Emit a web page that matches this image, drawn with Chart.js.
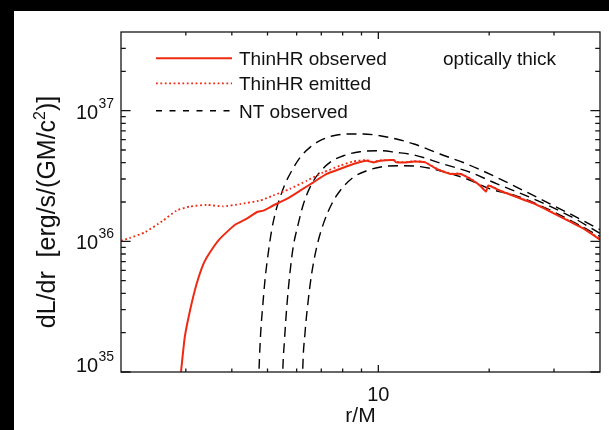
<!DOCTYPE html>
<html>
<head>
<meta charset="utf-8">
<script src="https://cdn.jsdelivr.net/npm/chart.js@4.4.1/dist/chart.umd.min.js"></script>
<style>
	html, body { margin: 0; padding: 0; background: #000; width: 609px; height: 430px; overflow: hidden; }
	#quadro { position: absolute; left: 14px; top: 11px; width: 595px; height: 419px; background: #fff; }
</style>
</head>
<body>
<div id="quadro"><canvas id="graficoLuminosidade" width="595" height="419"></canvas></div>
<script>
// r/M e dL/dr [erg/s/(GM/c^2)]
var obsR = [2.88, 2.91, 2.98, 3.08, 3.21, 3.35, 3.49, 3.71, 4.08, 4.39, 4.67, 4.87, 5.18, 5.64, 6.13, 6.66, 7.24, 7.87, 8.55, 9.30,
	9.69, 10.1, 11.0, 11.2, 11.9, 12.5, 13.4, 14.4, 15.7, 16.7, 17.8, 18.9, 19.6, 19.9, 21.4, 26.4, 29.3, 36.1, 40.0];
var obsL = [8.0e34, 1.0e35, 1.85e35, 2.96e35, 4.73e35, 6.73e35, 8.26e35, 1.045e36, 1.34e36, 1.49e36, 1.67e36, 1.72e36, 1.88e36, 2.11e36, 2.44e36, 2.83e36, 3.28e36, 3.58e36, 3.91e36, 4.14e36,
	4.02e36, 4.14e36, 4.19e36, 4.02e36, 4.02e36, 4.09e36, 4.02e36, 3.58e36, 3.28e36, 3.28e36, 3.0e36, 2.67e36, 2.40e36, 2.67e36, 2.44e36, 1.95e36, 1.69e36, 1.25e36, 1.03e36];

var emiR = [2.0, 2.11, 2.32, 2.60, 2.83, 3.08, 3.42, 3.79, 4.21, 4.77, 5.18, 5.75, 6.39, 7.09, 7.87, 8.55, 9.30,
	9.69, 10.1, 11.0, 11.2, 11.9, 12.5, 13.4, 14.4, 15.7, 16.7, 17.8, 18.9, 19.6, 19.9, 21.4, 26.4, 29.3, 36.1, 40.0];
var emiL = [1.01e36, 1.06e36, 1.17e36, 1.44e36, 1.72e36, 1.85e36, 1.90e36, 1.85e36, 1.93e36, 2.05e36, 2.24e36, 2.52e36, 2.91e36, 3.37e36, 3.79e36, 4.09e36, 4.19e36,
	4.05e36, 4.16e36, 4.20e36, 4.05e36, 4.04e36, 4.10e36, 4.04e36, 3.60e36, 3.30e36, 3.30e36, 3.02e36, 2.68e36, 2.42e36, 2.68e36, 2.45e36, 1.96e36, 1.70e36, 1.26e36, 1.04e36];

var ntR1 = [4.72, 4.74, 4.79, 4.85, 4.92, 5.02, 5.13, 5.27, 5.41, 5.58, 5.82, 6.13, 6.52, 6.94, 7.55, 8.38, 9.10, 10.1, 11.2, 12.5, 14.7, 17.4, 20.5, 23.8, 28.1, 33.2, 40.0];
var ntL1 = [6e34, 1.0e35, 1.97e35, 3.14e35, 5.02e35, 8.03e35, 1.21e36, 1.72e36, 2.17e36, 2.75e36, 3.47e36, 4.39e36, 5.24e36, 5.89e36, 6.43e36, 6.63e36, 6.63e36, 6.43e36, 6.07e36, 5.56e36, 4.66e36, 3.91e36, 3.18e36, 2.59e36, 2.05e36, 1.62e36, 1.23e36];

var ntR2 = [5.48, 5.50, 5.56, 5.64, 5.75, 5.87, 6.06, 6.26, 6.52, 6.87, 7.39, 8.04, 8.92, 10.1, 11.2, 12.5, 15.0, 17.8, 21.0, 24.8, 29.3, 33.9, 40.0];
var ntL2 = [6e34, 1.0e35, 1.75e35, 3.14e35, 5.65e35, 9.01e35, 1.36e36, 1.93e36, 2.59e36, 3.28e36, 4.02e36, 4.52e36, 4.85e36, 4.94e36, 4.79e36, 4.58e36, 3.91e36, 3.37e36, 2.75e36, 2.28e36, 1.85e36, 1.51e36, 1.15e36];

var ntR3 = [6.21, 6.23, 6.32, 6.45, 6.59, 6.80, 7.09, 7.47, 7.87, 8.55, 9.30, 10.3, 11.5, 13.0, 14.7, 17.4, 20.1, 23.8, 28.1, 33.2, 40.0];
var ntL3 = [6e34, 1.0e35, 1.97e35, 3.53e35, 5.65e35, 9.01e35, 1.36e36, 1.93e36, 2.44e36, 3.09e36, 3.47e36, 3.73e36, 3.79e36, 3.73e36, 3.47e36, 3.0e36, 2.52e36, 2.22e36, 1.83e36, 1.45e36, 1.09e36];

// eixos
var xMajor = [10];
var xMajorLabels = ['10'];
var xMinor = [3, 4, 5, 6, 7, 8, 9, 20, 30];
var yMajor = [1e35, 1e36, 1e37];
var yMajorExp = ['35', '36', '37'];
var yMinor = [2e35, 3e35, 4e35, 5e35, 6e35, 7e35, 8e35, 9e35, 2e36, 3e36, 4e36, 5e36, 6e36, 7e36, 8e36, 9e36, 2e37, 3e37];
var legendLabels = ['ThinHR observed', 'ThinHR emitted', 'NT observed'];

var FONTE = '"Liberation Sans", Arial, Helvetica, sans-serif';
var VERMELHO = "#ee2a12";

function pares(xs, ys) {
	return xs.map(function(x, i) { return { x: x, y: ys[i] }; });
}

var molduraPlugin = {
	id: 'moldura',
	afterDraw: function(chart) {
		var ctx = chart.ctx;
		var a = chart.chartArea;
		var sx = chart.scales.x, sy = chart.scales.y;

		ctx.save();
		ctx.strokeStyle = '#161616';
		ctx.lineWidth = 1.3;
		ctx.strokeRect(a.left, a.top, a.right - a.left, a.bottom - a.top);

		// marcas para dentro, nos quatro lados
		ctx.beginPath();
		function marcaX(v, len) {
			var px = sx.getPixelForValue(v);
			ctx.moveTo(px, a.bottom); ctx.lineTo(px, a.bottom - len);
			ctx.moveTo(px, a.top); ctx.lineTo(px, a.top + len);
		}
		function marcaY(v, len) {
			var py = sy.getPixelForValue(v);
			ctx.moveTo(a.left, py); ctx.lineTo(a.left + len, py);
			ctx.moveTo(a.right, py); ctx.lineTo(a.right - len, py);
		}
		xMajor.forEach(function(v) { marcaX(v, 7); });
		xMinor.forEach(function(v) { marcaX(v, 3.5); });
		yMajor.forEach(function(v) { marcaY(v, 9.6); });
		yMinor.forEach(function(v) { marcaY(v, 4.8); });
		ctx.stroke();

		ctx.fillStyle = '#111';
		ctx.textBaseline = 'alphabetic';

		// rotulos do eixo x
		ctx.font = '20px ' + FONTE;
		ctx.textAlign = 'center';
		xMajor.forEach(function(v, i) {
			ctx.fillText(xMajorLabels[i], sx.getPixelForValue(v), a.bottom + 29);
		});
		ctx.font = '21px ' + FONTE;
		ctx.fillText('r/M', (a.left + a.right) / 2, a.bottom + 50);

		// rotulos do eixo y (10 com expoente)
		ctx.textAlign = 'left';
		yMajor.forEach(function(v, i) {
			var base = Math.min(sy.getPixelForValue(v) + 8, a.bottom);
			ctx.font = '20px ' + FONTE;
			ctx.fillText('10', a.left - 45, base);
			ctx.font = '14px ' + FONTE;
			ctx.fillText(yMajorExp[i], a.left - 22.5, base - 11);
		});

		// titulo do eixo y
		var partes = [['dL/dr  [erg/s/(GM/c', 25, 0], ['2', 16, -10], [')]', 25, 0]];
		var total = 0;
		partes.forEach(function(p) { ctx.font = p[1] + 'px ' + FONTE; p.push(ctx.measureText(p[0]).width); total += p[3]; });
		ctx.translate(a.left - 66, (a.top + a.bottom) / 2 + 10);
		ctx.rotate(-Math.PI / 2);
		var px = -total / 2;
		partes.forEach(function(p) {
			ctx.font = p[1] + 'px ' + FONTE;
			ctx.fillText(p[0], px, p[2]);
			px += p[3];
		});
		ctx.setTransform(1, 0, 0, 1, 0, 0);

		// legenda
		var linhas = [
			{ cor: VERMELHO, largura: 2, traco: [] },
			{ cor: VERMELHO, largura: 1.8, traco: [1.8, 2.6] },
			{ cor: '#000', largura: 1.4, traco: [6, 7.5] }
		];
		var ys = [26.3, 51.3, 78.7];
		linhas.forEach(function(l, i) {
			var y = a.top + ys[i];
			ctx.beginPath();
			ctx.strokeStyle = l.cor;
			ctx.lineWidth = l.largura;
			ctx.setLineDash(l.traco);
			ctx.moveTo(a.left + 35, y);
			ctx.lineTo(a.left + 111, y);
			ctx.stroke();
			ctx.setLineDash([]);
			ctx.font = '19px ' + FONTE;
			ctx.fillStyle = '#111';
			ctx.fillText(legendLabels[i], a.left + 118, y + 7);
		});
		ctx.fillText('optically thick', a.left + 322, a.top + ys[0] + 7);

		ctx.restore();
	}
};

var conjunto = function(label, xs, ys, cor, largura, traco, suave) {
	return {
		label: label,
		data: pares(xs, ys),
		borderColor: cor,
		borderWidth: largura,
		borderDash: traco,
		pointRadius: 0,
		fill: false,
		tension: suave ? 0 : 0.15,
		cubicInterpolationMode: suave ? 'monotone' : 'default'
	};
};

new Chart(document.getElementById('graficoLuminosidade'), {
	type: 'line',
	data: {
		datasets: [
			conjunto(legendLabels[0], obsR, obsL, VERMELHO, 2, [], false),
			conjunto(legendLabels[1], emiR, emiL, VERMELHO, 1.8, [1.8, 2.6], false),
			conjunto(legendLabels[2], ntR1, ntL1, "#000", 1.4, [10, 6], true),
			conjunto(legendLabels[2], ntR2, ntL2, "#000", 1.4, [10, 6], true),
			conjunto(legendLabels[2], ntR3, ntL3, "#000", 1.4, [10, 6], true)
		]
	},
	options: {
		animation: false,
		responsive: false,
		events: [],
		layout: { padding: { left: 107, right: 9, top: 21, bottom: 58 } },
		scales: {
			x: { type: 'logarithmic', min: 2, max: 40, display: false },
			y: { type: 'logarithmic', min: 1e35, max: 4e37, display: false }
		},
		plugins: {
			legend: { display: false },
			tooltip: { enabled: false }
		}
	},
	plugins: [molduraPlugin]
});
</script>
</body>
</html>
